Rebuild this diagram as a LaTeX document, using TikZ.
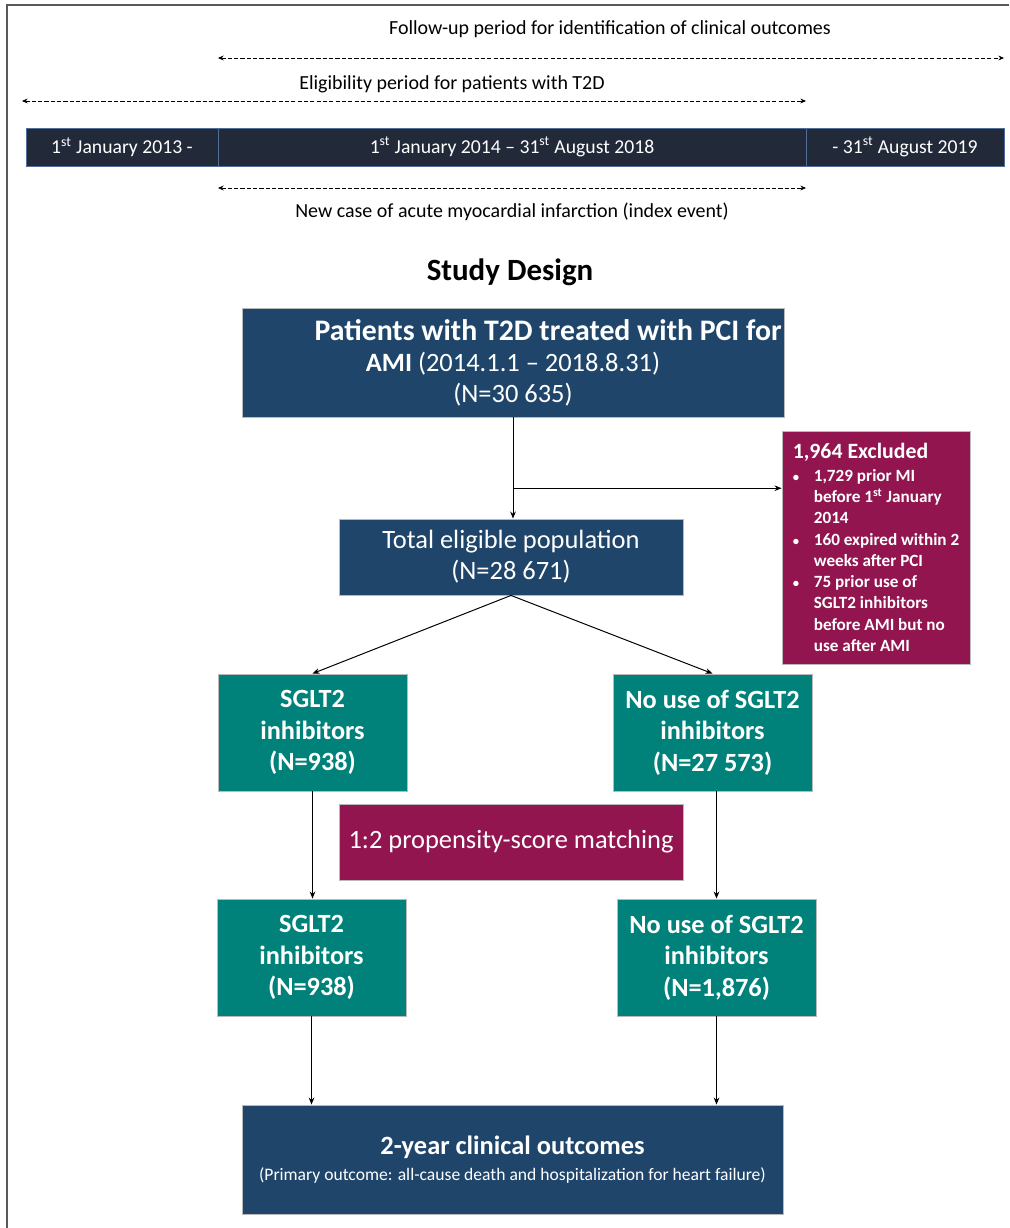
\documentclass[tikz,border=0pt]{standalone}
\usepackage{fontspec}
\setmainfont{Carlito}
\usepackage{xcolor}
\usepackage{tikz}
\usetikzlibrary{arrows.meta,positioning,calc}
\definecolor{navy}{RGB}{31,70,106}
\definecolor{tealc}{RGB}{0,130,122}
\definecolor{plum}{RGB}{146,21,80}
\definecolor{barcol}{RGB}{34,42,58}
\definecolor{barline}{RGB}{80,110,150}
\newcommand{\exitem}{\makebox[15pt][l]{\fontsize{9}{9}\selectfont\textbullet}}
\newcommand{\exindent}{\hspace*{15pt}}

\begin{document}
\begin{tikzpicture}[>={Stealth[length=5pt,width=4pt]}, x=0.025cm, y=-0.025cm,
  box/.style={draw=gray!55, line width=0.6pt, text=white, align=center, inner sep=0pt, font=\fontsize{18.8}{22}\selectfont},
  navybox/.style={box, fill=navy},
  tealbox/.style={box, fill=tealc, font=\fontsize{18.7}{22.5}\selectfont\bfseries},
  plumbox/.style={box, fill=plum},
  barseg/.style={draw=barline, fill=barcol, text=white, minimum height=0.95cm, inner sep=0pt, font=\fontsize{14}{16}\selectfont},
  periodarrow/.style={dash pattern=on 3pt off 1.5pt, line width=0.6pt, {Stealth[length=4pt,width=3.5pt]}-{Stealth[length=4pt,width=3.5pt]}},
  flow/.style={->, line width=0.7pt},
  lbl/.style={font=\fontsize{14.2}{16}\selectfont}]
\useasboundingbox (0,0) rectangle (1009,1228);
\draw[line width=1.4pt, gray!70!black] (7,1228) -- (7,5) -- (1009,5);

\node[lbl] (futxt) at (610,29) {Follow-up period for identification of clinical outcomes};
\coordinate (fuL) at (218,58);
\coordinate (fuR) at (1004,58);
\draw[periodarrow] (fuL) -- (fuR);
\node[lbl] (eltxt) at (452,84) {Eligibility period for patients with T2D};
\coordinate (elL) at (22,101);
\coordinate (elR) at (806,101);
\draw[periodarrow] (elL) -- (elR);

\node[barseg, minimum width=4.8cm] (y13) at (122,147) {1\textsuperscript{st} January 2013 -};
\node[barseg, minimum width=14.7cm] (y14) at (512,147) {1\textsuperscript{st} January 2014 – 31\textsuperscript{st} August 2018};
\node[barseg, minimum width=4.95cm] (y19) at (905,147) {- 31\textsuperscript{st} August 2019};

\coordinate (amiL) at (218,188);
\coordinate (amiR) at (806,188);
\draw[periodarrow] (amiL) -- (amiR);
\node[lbl] (amitxt) at (512,212) {New case of acute myocardial infarction (index event)};

\node[font=\fontsize{22}{24}\selectfont\bfseries] (title) at (510,272) {Study Design};

\node[navybox, minimum width=13.55cm, minimum height=2.725cm] (ami) at (513,362.5)
  {\hspace*{50pt}{\fontsize{21.2}{22}\selectfont\bfseries Patients with T2D treated with PCI for}\\\textbf{AMI} (2014.1.1 – 2018.8.31)\\(N=30 635)};
\node[plumbox, minimum width=4.7cm, minimum height=5.825cm, align=left, font=\fontsize{12.2}{15.1}\selectfont\bfseries] (excl) at (876,547.5)
  {{\fontsize{15.5}{18}\selectfont 1,964 Excluded}\\[1pt]
   \exitem 1,729 prior MI\\
   \exindent before 1\textsuperscript{st} January\\
   \exindent 2014\\
   \exitem 160 expired within 2\\
   \exindent weeks after PCI\\
   \exitem 75 prior use of\\
   \exindent SGLT2 inhibitors\\
   \exindent before AMI but no\\
   \exindent use after AMI};
\node[navybox, minimum width=8.6cm, minimum height=1.9cm] (elig) at (511,557) {Total eligible population\\(N=28 671)};

\node[tealbox, minimum width=4.725cm, minimum height=2.925cm] (sglt) at (312.5,732.5) {SGLT2\\inhibitors\\(N=938)};
\node[tealbox, minimum width=4.975cm, minimum height=2.925cm] (nouse) at (712.5,732.5) {No use of SGLT2\\inhibitors\\(N=27 573)};
\node[plumbox, minimum width=8.6cm, minimum height=1.9cm] (psm) at (511,842) {1:2 propensity-score matching};
\node[tealbox, minimum width=4.725cm, minimum height=2.925cm] (sgltm) at (311.5,957.5) {SGLT2\\inhibitors\\(N=938)};
\node[tealbox, minimum width=4.975cm, minimum height=2.925cm] (nousem) at (716.5,957.5) {No use of SGLT2\\inhibitors\\(N=1,876)};
\node[navybox, minimum width=13.525cm, minimum height=2.725cm] (outc) at (512.5,1159.5)
  {\textbf{2-year clinical outcomes}\\[-3pt]{\fontsize{12.5}{14}\selectfont (Primary outcome: all-cause death and hospitalization for heart failure)}};

\draw[flow] (ami.south) -- (ami.south |- elig.north);
\coordinate (split) at ($(ami.south)!0.7!(ami.south |- elig.north)$);
\draw[flow] (split) -- (split -| excl.west);
\draw[flow] (elig.south) -- (sglt.north);
\draw[flow] (elig.south) -- (nouse.north);
\draw[flow] (sglt.south) -- (sglt.south |- sgltm.north);
\draw[flow] (nousem.north |- nouse.south) -- (nousem.north);
\draw[flow] (sgltm.south) -- (sgltm.south |- outc.north);
\draw[flow] (nousem.south) -- (nousem.south |- outc.north);
\end{tikzpicture}
\end{document}
